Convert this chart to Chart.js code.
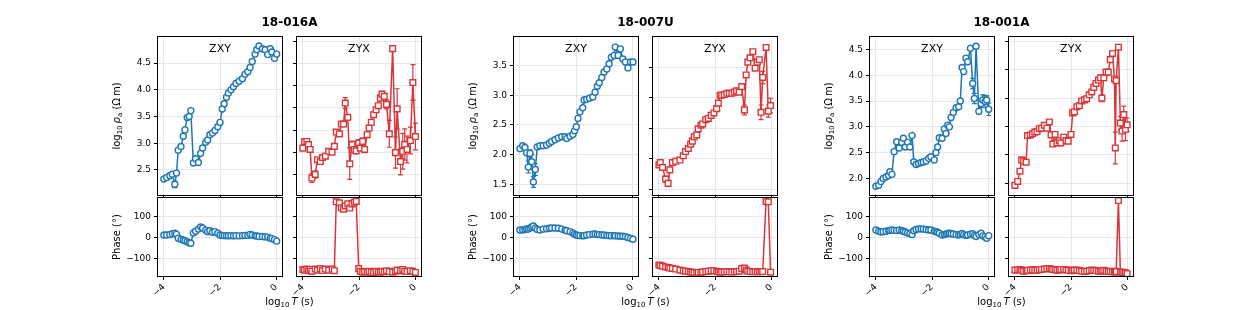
<!DOCTYPE html>
<html>
<head>
<meta charset="utf-8">
<script src="https://cdn.jsdelivr.net/npm/chart.js@4.4.0/dist/chart.umd.min.js"></script>
<style>
body { margin: 0; background: #fff; width: 1260px; height: 310px; position: relative; overflow: hidden; font-family: 'DejaVu Sans', sans-serif; }
canvas { position: absolute; }
.t { position: absolute; white-space: nowrap; color: #000; line-height: 1; transform: translate(-50%, -50%); }
.r { transform: translate(-50%, -50%) rotate(-90deg); }
.s { font-size: 70%; vertical-align: -0.3em; }
</style>
</head>
<body>
<script>
// ---- site 18-016A ----
var site1XyT = [-4.00,-3.90,-3.79,-3.70,-3.61,-3.55,-3.49,-3.39,-3.31,-3.25,-3.17,-3.10,-3.04,-2.95,-2.87,-2.77,-2.69,-2.62,-2.51,-2.44,-2.36,-2.27,-2.18,-2.08,-2.00,-1.92,-1.85,-1.77,-1.70,-1.61,-1.52,-1.43,-1.32,-1.20,-1.11,-1.01,-0.93,-0.85,-0.75,-0.69,-0.61,-0.49,-0.39,-0.30,-0.21,-0.15,-0.06,0.02];
var site1XyRho = [2.33,2.36,2.39,2.42,2.23,2.44,2.87,2.94,3.13,3.25,3.48,3.50,3.61,2.63,2.71,2.64,2.81,2.91,3.02,3.06,3.16,3.19,3.24,3.31,3.39,3.64,3.74,3.86,3.94,4.00,4.06,4.12,4.16,4.21,4.29,4.34,4.42,4.53,4.67,4.75,4.82,4.77,4.75,4.66,4.77,4.71,4.59,4.67];
var site1XyErr = [0.02,0.02,0.02,0.02,0.06,0.02,0.04,0.02,0.02,0.02,0.02,0.02,0.02,0.02,0.02,0.02,0.02,0.02,0.02,0.02,0.02,0.02,0.02,0.02,0.02,0.02,0.02,0.02,0.02,0.02,0.02,0.02,0.02,0.02,0.02,0.02,0.02,0.02,0.02,0.02,0.02,0.02,0.02,0.02,0.02,0.02,0.02,0.02];
var site1XyPhase = [12,12,14,18,20,15,-3,-8,-12,-15,-20,-25,-27,22,30,40,50,45,35,28,32,25,28,20,12,10,9,9,8,9,8,9,8,9,10,10,15,12,8,7,5,5,3,2,-3,-5,-10,-17];

var site1YxT = [-4.00,-3.94,-3.86,-3.80,-3.74,-3.68,-3.56,-3.48,-3.38,-3.30,-3.20,-3.08,-2.96,-2.88,-2.81,-2.70,-2.63,-2.55,-2.49,-2.40,-2.33,-2.25,-2.17,-2.10,-2.01,-1.95,-1.87,-1.80,-1.71,-1.64,-1.56,-1.48,-1.39,-1.31,-1.24,-1.18,-1.10,-1.02,-0.92,-0.80,-0.70,-0.64,-0.52,-0.44,-0.37,-0.29,-0.17,-0.08,0.01];
var site1YxRho = [2.60,2.74,2.75,2.68,2.57,1.93,2.01,2.34,2.30,2.39,2.42,2.53,2.51,2.64,2.96,2.92,3.14,3.14,3.61,3.29,2.25,2.68,2.57,2.54,2.71,2.60,2.75,2.57,2.90,3.05,3.18,3.35,3.46,3.55,3.72,3.81,3.76,3.58,2.92,4.83,2.50,3.48,2.30,2.53,2.68,2.57,2.77,4.07,2.86];
var site1YxErr = [0.03,0.03,0.03,0.03,0.04,0.10,0.08,0.04,0.04,0.04,0.04,0.04,0.04,0.05,0.05,0.05,0.05,0.05,0.12,0.06,0.35,0.08,0.07,0.07,0.08,0.07,0.08,0.07,0.05,0.05,0.04,0.04,0.04,0.04,0.05,0.06,0.06,0.10,0.30,0.06,0.35,0.45,0.30,0.40,0.35,0.30,0.30,0.40,0.30];
var site1YxPhase = [-152,-155,-150,-158,-152,-160,-150,-155,-148,-157,-150,-155,-150,-158,170,165,142,135,150,160,140,160,168,172,-148,-160,-165,-162,-165,-160,-163,-166,-160,-163,-165,-160,-163,-158,-162,-165,-160,-155,-158,-152,-160,-162,-158,-160,-166];

// ---- site 18-007U ----
var site2XyT = [-4.00,-3.90,-3.82,-3.76,-3.70,-3.64,-3.58,-3.52,-3.45,-3.38,-3.29,-3.17,-3.05,-2.95,-2.87,-2.75,-2.63,-2.51,-2.39,-2.33,-2.21,-2.11,-2.05,-1.99,-1.93,-1.86,-1.76,-1.71,-1.62,-1.52,-1.40,-1.32,-1.24,-1.17,-1.08,-1.00,-0.90,-0.82,-0.74,-0.64,-0.60,-0.50,-0.42,-0.33,-0.24,-0.15,-0.06,0.03];
var site2XyRho = [2.10,2.15,2.12,2.03,1.79,2.02,1.88,1.54,1.75,2.13,2.15,2.15,2.16,2.19,2.22,2.25,2.28,2.30,2.30,2.27,2.31,2.34,2.40,2.47,2.61,2.72,2.79,2.92,2.93,2.95,2.97,3.05,3.15,3.21,3.30,3.39,3.44,3.53,3.64,3.67,3.81,3.67,3.78,3.61,3.56,3.46,3.56,3.56];
var site2XyErr = [0.02,0.02,0.02,0.03,0.10,0.06,0.12,0.09,0.10,0.03,0.02,0.02,0.02,0.02,0.02,0.02,0.02,0.02,0.02,0.02,0.02,0.02,0.02,0.02,0.02,0.02,0.02,0.02,0.02,0.02,0.02,0.02,0.02,0.02,0.02,0.02,0.02,0.02,0.02,0.02,0.03,0.03,0.03,0.03,0.03,0.03,0.03,0.03];
var site2XyPhase = [36,36,38,41,40,45,50,55,45,38,36,40,42,44,45,45,44,40,35,32,28,22,16,12,10,9,8,9,12,14,16,17,14,14,12,12,10,9,9,9,8,7,6,6,4,0,-4,-8];

var site2YxT = [-4.00,-3.95,-3.87,-3.76,-3.67,-3.61,-3.52,-3.40,-3.25,-3.13,-3.05,-2.95,-2.87,-2.81,-2.74,-2.65,-2.60,-2.50,-2.44,-2.33,-2.24,-2.14,-2.04,-1.94,-1.88,-1.82,-1.76,-1.67,-1.58,-1.49,-1.40,-1.31,-1.23,-1.14,-1.05,-0.95,-0.89,-0.83,-0.75,-0.65,-0.57,-0.49,-0.42,-0.36,-0.30,-0.18,-0.10,-0.02];
var site2YxRho = [1.90,1.94,1.86,1.67,1.60,1.82,1.94,1.96,1.98,2.05,2.12,2.17,2.24,2.29,2.36,2.39,2.49,2.55,2.57,2.64,2.66,2.71,2.75,2.82,2.91,3.04,3.04,3.05,3.07,3.07,3.07,3.09,3.11,3.09,3.18,2.80,3.37,3.58,3.65,3.75,3.48,3.58,3.62,2.76,3.33,3.82,2.78,2.87];
var site2YxErr = [0.02,0.02,0.02,0.05,0.05,0.02,0.02,0.02,0.02,0.02,0.02,0.02,0.02,0.02,0.02,0.02,0.02,0.02,0.02,0.02,0.02,0.02,0.02,0.02,0.02,0.02,0.02,0.02,0.02,0.02,0.02,0.02,0.02,0.02,0.02,0.08,0.03,0.03,0.03,0.03,0.03,0.03,0.03,0.12,0.10,0.04,0.10,0.12];
var site2YxPhase = [-131,-133,-136,-140,-143,-145,-147,-150,-155,-158,-160,-162,-164,-165,-166,-167,-166,-165,-164,-162,-160,-158,-158,-162,-163,-165,-164,-163,-162,-163,-164,-163,-162,-160,-148,-145,-155,-160,-162,-163,-162,-163,-162,-163,-162,172,170,-165];

// ---- site 18-001A ----
var site3XyT = [-4.00,-3.90,-3.82,-3.74,-3.64,-3.55,-3.50,-3.43,-3.35,-3.26,-3.17,-3.08,-3.02,-2.95,-2.87,-2.79,-2.71,-2.65,-2.57,-2.48,-2.39,-2.31,-2.21,-2.12,-2.04,-1.92,-1.86,-1.80,-1.74,-1.64,-1.56,-1.50,-1.44,-1.38,-1.32,-1.24,-1.14,-1.05,-0.99,-0.93,-0.87,-0.79,-0.73,-0.63,-0.55,-0.49,-0.43,-0.33,-0.25,-0.19,-0.11,-0.05,0.02];
var site3XyRho = [1.85,1.87,1.94,2.00,2.03,2.06,2.13,2.08,2.52,2.71,2.59,2.70,2.78,2.61,2.70,2.61,2.83,2.32,2.27,2.29,2.31,2.32,2.34,2.39,2.42,2.36,2.50,2.61,2.79,2.78,2.96,2.87,3.03,3.00,3.18,3.28,3.37,3.39,3.50,4.15,4.07,4.33,4.26,4.52,3.84,3.55,4.56,3.30,3.45,3.52,3.49,3.52,3.34];
var site3XyErr = [0.02,0.02,0.02,0.02,0.02,0.02,0.02,0.02,0.02,0.02,0.02,0.02,0.02,0.02,0.02,0.02,0.02,0.02,0.02,0.02,0.02,0.02,0.02,0.02,0.02,0.02,0.02,0.02,0.02,0.02,0.02,0.02,0.02,0.02,0.02,0.02,0.02,0.02,0.02,0.02,0.02,0.02,0.02,0.02,0.10,0.10,0.04,0.05,0.08,0.10,0.12,0.08,0.12];
var site3XyPhase = [36,30,26,28,30,33,34,36,34,33,36,32,30,26,22,18,14,32,38,41,41,40,38,36,36,30,28,25,20,12,14,17,19,20,18,17,14,12,15,19,14,10,12,16,18,10,5,14,20,8,3,-4,9];

var site3YxT = [-4.00,-3.90,-3.82,-3.76,-3.69,-3.60,-3.55,-3.45,-3.37,-3.29,-3.21,-3.13,-3.05,-2.95,-2.86,-2.77,-2.71,-2.65,-2.57,-2.50,-2.42,-2.36,-2.26,-2.18,-2.10,-2.00,-1.94,-1.88,-1.79,-1.70,-1.62,-1.52,-1.44,-1.35,-1.26,-1.19,-1.11,-1.02,-0.95,-0.90,-0.83,-0.75,-0.67,-0.60,-0.52,-0.45,-0.42,-0.39,-0.31,-0.24,-0.18,-0.12,-0.06,0.00];
var site3YxRho = [1.96,2.03,2.21,2.41,2.39,2.37,2.84,2.85,2.87,2.90,2.91,2.96,2.97,3.02,2.97,3.08,2.85,2.69,2.86,2.71,2.75,2.71,2.81,2.75,2.74,2.86,3.24,3.26,3.35,3.37,3.45,3.47,3.49,3.56,3.61,3.69,3.76,3.82,3.86,3.50,3.86,3.96,3.96,4.18,4.29,3.84,2.62,3.81,4.40,3.06,2.92,3.21,2.95,3.03];
var site3YxErr = [0.02,0.02,0.02,0.02,0.02,0.02,0.02,0.02,0.02,0.02,0.02,0.02,0.02,0.02,0.02,0.02,0.02,0.02,0.02,0.02,0.02,0.02,0.02,0.02,0.02,0.02,0.02,0.02,0.02,0.02,0.02,0.02,0.02,0.02,0.02,0.02,0.02,0.02,0.02,0.06,0.03,0.03,0.03,0.03,0.03,0.03,0.28,0.04,0.04,0.12,0.18,0.15,0.20,0.12];
var site3YxPhase = [-155,-153,-152,-156,-160,-158,-156,-155,-154,-155,-156,-153,-152,-150,-148,-147,-150,-152,-153,-155,-154,-152,-152,-154,-156,-158,-156,-155,-155,-157,-160,-162,-160,-157,-155,-156,-157,-160,-162,-158,-156,-160,-162,-161,-163,-165,-160,-162,176,-164,-166,-165,-168,-172];

var siteNames = ['18-016A', '18-007U', '18-001A'];
var componentNames = ['ZXY', 'ZYX'];
var periodTicks = [-4, -2, 0];

var sites = [
    { xy: [site1XyT, site1XyRho, site1XyErr, site1XyPhase], yx: [site1YxT, site1YxRho, site1YxErr, site1YxPhase] },
    { xy: [site2XyT, site2XyRho, site2XyErr, site2XyPhase], yx: [site2YxT, site2YxRho, site2YxErr, site2YxPhase] },
    { xy: [site3XyT, site3XyRho, site3XyErr, site3XyPhase], yx: [site3YxT, site3YxRho, site3YxErr, site3YxPhase] }
];

// axis limits (left / right resistivity panel of each site)
var rhoLimits = [[[2.03, 4.99], [1.55, 5.09]], [[1.32, 3.98], [1.41, 3.99]], [[1.68, 4.74], [1.79, 4.58]]];
var phaseLimits = [-183, 188];
var periodLimits = [-4.21, 0.21];

var BLUE = '#1f77b4', RED = '#d8373a';
Chart.defaults.font.family = 'DejaVu Sans';

// vertical error bars, drawn under the markers
var errorBars = {
    id: 'errorBars',
    beforeDatasetsDraw: function (chart) {
        var ctx = chart.ctx, a = chart.chartArea, xs = chart.scales.x, ys = chart.scales.y;
        ctx.save();
        ctx.beginPath();
        ctx.rect(a.left, a.top, a.right - a.left, a.bottom - a.top);
        ctx.clip();
        chart.data.datasets.forEach(function (ds) {
            if (!ds.errors) return;
            ctx.strokeStyle = ds.borderColor;
            ctx.lineWidth = 1.2;
            ds.data.forEach(function (p, i) {
                var e = ds.errors[i];
                var px = xs.getPixelForValue(p.x);
                var lo = ys.getPixelForValue(p.y - e), hi = ys.getPixelForValue(p.y + e);
                ctx.beginPath();
                ctx.moveTo(px, lo); ctx.lineTo(px, hi);
                ctx.moveTo(px - 2.5, lo); ctx.lineTo(px + 2.5, lo);
                ctx.moveTo(px - 2.5, hi); ctx.lineTo(px + 2.5, hi);
                ctx.stroke();
            });
        });
        ctx.restore();
    }
};

// box around the plot area
var frame = {
    id: 'frame',
    afterDraw: function (chart) {
        var ctx = chart.ctx, a = chart.chartArea;
        ctx.save();
        ctx.strokeStyle = '#000';
        ctx.lineWidth = 1;
        ctx.strokeRect(Math.round(a.left) - 0.5, Math.round(a.top) - 0.5, Math.round(a.right - a.left) + 1, Math.round(a.bottom - a.top) + 1);
        ctx.restore();
    }
};

function minusSign(v) { return String(v).replace('-', '\u2212'); }

function addText(html, x, y, size, cls, bold) {
    var d = document.createElement('div');
    d.className = 't ' + (cls || '');
    d.style.left = x + 'px';
    d.style.top = y + 'px';
    d.style.fontSize = size + 'px';
    if (bold) d.style.fontWeight = 'bold';
    d.innerHTML = html;
    document.body.appendChild(d);
}

function panel(left, top, w, h, o) {
    var ML = 44, MR = 14, MT = 10, MB = o.xLabels ? 36 : 10;
    var c = document.createElement('canvas');
    c.width = w + ML + MR;
    c.height = h + MT + MB;
    c.style.left = (left - ML) + 'px';
    c.style.top = (top - MT) + 'px';
    document.body.appendChild(c);

    var square = o.color === RED;
    new Chart(c, {
        type: 'scatter',
        data: {
            datasets: [{
                data: o.t.map(function (x, i) { return { x: x, y: o.v[i] }; }),
                errors: o.err || null,
                showLine: true,
                borderColor: o.color,
                borderWidth: 1.5,
                pointStyle: square ? 'rect' : 'circle',
                pointRadius: square ? 4 : 3,
                pointBorderWidth: 1.4,
                pointBorderColor: o.color,
                pointBackgroundColor: '#fff'
            }]
        },
        options: {
            responsive: false,
            animation: false,
            devicePixelRatio: 1,
            layout: { padding: { left: 0, right: MR, top: MT, bottom: 0 } },
            plugins: { legend: { display: false }, tooltip: { enabled: false } },
            scales: {
                x: {
                    type: 'linear',
                    min: periodLimits[0],
                    max: periodLimits[1],
                    afterFit: function (s) { s.height = MB; },
                    afterBuildTicks: function (s) { s.ticks = periodTicks.map(function (v) { return { value: v }; }); },
                    ticks: {
                        display: o.xLabels,
                        minRotation: 45, maxRotation: 45,
                        padding: 2,
                        color: '#000',
                        font: { size: 9 },
                        callback: minusSign
                    },
                    grid: { color: '#e6e6e6', tickColor: '#000', tickLength: 4, tickWidth: 1 },
                    border: { display: false }
                },
                y: {
                    min: o.lim[0],
                    max: o.lim[1],
                    afterFit: function (s) { s.width = ML; },
                    ticks: {
                        display: o.yLabels,
                        stepSize: o.step,
                        includeBounds: false,
                        padding: 3,
                        color: '#000',
                        font: { size: 9 },
                        callback: function (v) { return o.step < 1 ? v.toFixed(1) : minusSign(v); }
                    },
                    grid: { color: '#e6e6e6', tickColor: '#000', tickLength: 4, tickWidth: 1 },
                    border: { display: false }
                }
            }
        },
        plugins: [errorBars, frame]
    });
}

var groupLeft = [158, 514, 870];
var colOffset = 139, plotW = 124;
var topY = 37, topH = 158, botY = 198, botH = 78;

sites.forEach(function (site, g) {
    var gl = groupLeft[g];
    [site.xy, site.yx].forEach(function (comp, k) {
        var left = gl + k * colOffset;
        var color = k === 0 ? BLUE : RED;
        panel(left, topY, plotW, topH, {
            t: comp[0], v: comp[1], err: comp[2], color: color,
            lim: rhoLimits[g][k], step: 0.5, yLabels: k === 0, xLabels: false
        });
        panel(left, botY, plotW, botH, {
            t: comp[0], v: comp[3], color: color,
            lim: phaseLimits, step: 100, yLabels: k === 0, xLabels: true
        });
        addText(componentNames[k], left + plotW / 2, 48, 11);
    });
    var mid = gl + (colOffset + plotW) / 2;
    addText(siteNames[g], mid, 22, 12, '', true);
    addText('log<span class="s">10</span>&thinsp;<i>\u03c1</i><span class="s">a</span> (\u03a9\u2009m)', gl - 40, 116, 10, 'r');
    addText('Phase (\u00b0)', gl - 41, 237, 10, 'r');
    addText('log<span class="s">10</span>&thinsp;<i>T</i> (s)', mid, 303, 10);
});
</script>
</body>
</html>
